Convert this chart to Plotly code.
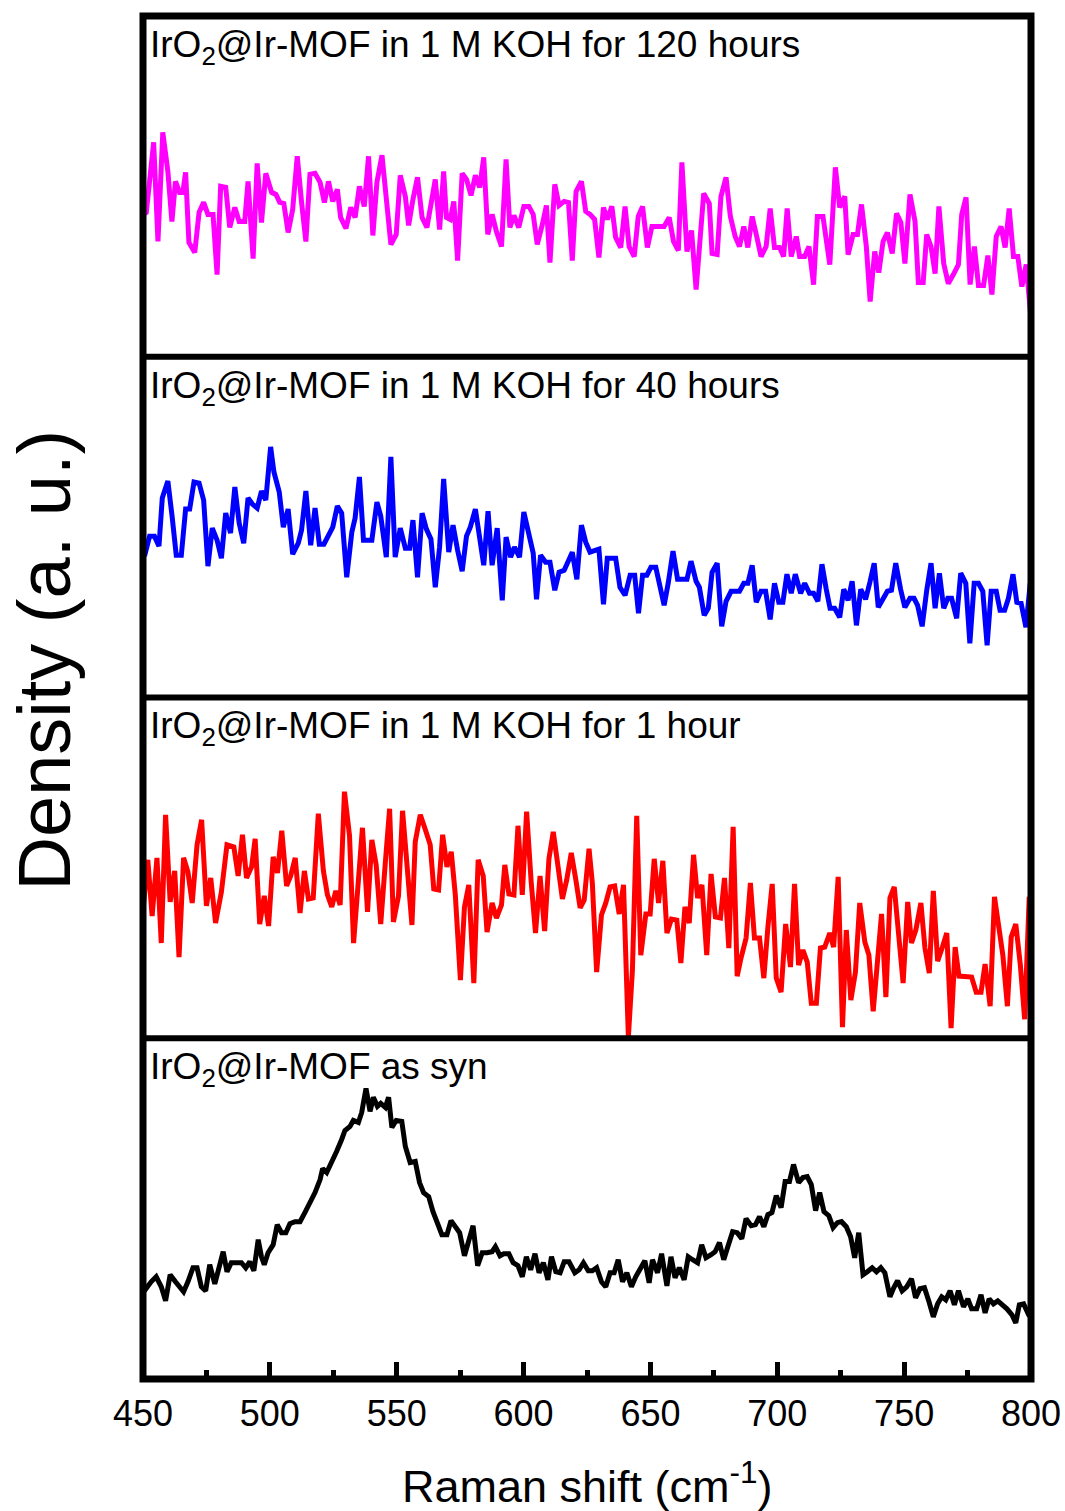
import plotly.graph_objects as go
from plotly.subplots import make_subplots

# ---------------- data (Raman shift in cm^-1, intensity in a.u.) ----------------
labels = [
    "IrO<sub>2</sub>@Ir-MOF in 1 M KOH for 120 hours",
    "IrO<sub>2</sub>@Ir-MOF in 1 M KOH for 40 hours",
    "IrO<sub>2</sub>@Ir-MOF in 1 M KOH for 1 hour",
    "IrO<sub>2</sub>@Ir-MOF as syn",
]
colors = ["#FF00FF", "#0000FF", "#FF0000", "#000000"]
x_ticks = [450, 500, 550, 600, 650, 700, 750, 800]

h120_x = [
    450.0, 451.3, 454.2, 455.9, 457.8, 459.8, 461.4, 462.8, 464.4, 465.7,
    466.8, 468.1, 470.4, 472.1, 473.9, 475.6, 477.6, 479.2, 480.6, 482.6,
    484.2, 486.2, 487.9, 490.1, 491.4, 493.4, 495.0, 496.7, 498.4, 500.7,
    502.4, 503.9, 505.5, 507.2, 509.0, 510.8, 512.5, 514.2, 515.8, 517.8,
    519.8, 521.5, 523.1, 524.8, 526.6, 527.9, 530.0, 531.9, 533.6, 535.3,
    537.2, 538.9, 540.6, 542.2, 544.2, 545.9, 547.7, 549.8, 551.4, 553.4,
    554.7, 556.4, 558.2, 560.0, 561.9, 563.5, 565.2, 566.9, 568.5, 569.6,
    571.1, 572.5, 574.0, 575.8, 577.5, 579.3, 581.0, 582.7, 584.3, 585.9,
    587.6, 589.3, 591.3, 593.1, 594.6, 596.2, 598.1, 600.1, 602.1, 603.8,
    605.4, 607.4, 609.0, 610.4, 612.3, 614.0, 616.0, 617.7, 619.2, 620.7,
    622.8, 624.5, 626.2,
    628.0, 629.7, 631.5, 633.0, 634.8, 636.3, 638.3, 640.0, 641.6, 643.6,
    645.2, 646.9, 648.8, 650.6, 655.4, 657.4, 659.1, 661.0, 662.4, 664.4,
    666.2, 668.0, 671.0, 673.2, 674.3, 676.3, 677.8, 679.8, 681.5, 683.4,
    685.1, 686.8, 688.4, 690.1, 691.9, 693.6, 695.6, 697.2, 698.9, 700.9,
    702.5, 703.9, 705.5, 707.5, 708.8, 710.8, 712.5, 714.3, 715.8, 718.0,
    720.7, 722.9, 724.6, 726.6, 727.9, 729.9, 731.6, 733.2, 735.1, 736.6,
    738.4, 740.0, 741.7, 743.4, 745.3, 747.0, 748.7, 750.3, 752.3, 754.3,
    755.6, 757.5, 758.9, 760.6, 762.2, 763.7, 765.6, 767.4, 769.4, 771.4,
    772.7, 774.4, 776.0, 777.7, 779.3, 781.3, 783.0, 784.6, 786.3, 788.2,
    789.8, 791.4, 793.1, 794.8, 796.4, 798.1, 799.8, 800.6,
]
h120_y = [
    140, 142, 212, 113, 222, 183, 133, 173, 162, 162,
    182, 112, 102, 142, 152, 140, 140, 80, 168, 167,
    127, 147, 133, 133, 173, 96, 191, 132, 181, 162,
    160, 152, 151, 122, 145, 198, 152, 113, 180, 181,
    172, 152, 173, 153, 165, 137, 126, 147, 137, 168,
    148, 198, 119, 172, 199, 155, 110, 120, 179, 158,
    129, 155, 177, 137, 127, 150, 175, 125, 183, 137,
    135, 153, 94, 181, 175, 159, 179, 167, 197, 120,
    140, 123, 108, 195, 127, 139, 127, 148, 148, 140,
    110, 130, 149, 92, 170, 149, 153, 152, 94, 163,
    173, 143, 140,
    135, 97, 147, 135, 148, 117, 107, 148, 108, 98,
    138, 148, 107, 128, 128, 137, 113, 104, 192, 103,
    124, 65, 161, 151, 101, 100, 158, 177, 138, 118,
    108, 128, 107, 138, 118, 98, 108, 146, 107, 107,
    98, 146, 98, 118, 98, 98, 108, 70, 138, 138,
    90, 187, 147, 158, 100, 120, 120, 150, 108, 53,
    103, 82, 113, 122, 101, 141, 132, 91, 160, 133,
    72, 72, 120, 108, 81, 148, 91, 71, 80, 90,
    140, 157, 70, 108, 69, 69, 99, 60, 118, 128,
    107, 146, 98, 98, 68, 90, 42, 100,
]

h40_x = [
    450.6, 452.6, 454.5, 456.3, 457.6, 459.8, 461.5, 463.1, 465.1, 466.8,
    468.4, 470.1, 472.1, 473.9, 475.6, 477.3, 479.2, 480.9, 482.6, 484.5,
    486.2, 487.9, 489.7, 491.4, 493.1, 495.0, 496.7, 498.4, 500.3, 501.6,
    503.7, 505.3, 507.2, 509.0, 511.2, 512.5, 514.2, 516.1, 517.8, 519.5,
    521.3, 523.1, 524.8, 526.6, 528.3, 530.3, 532.3, 533.6, 535.3, 536.9,
    540.2, 542.2, 543.7, 545.9, 547.7, 549.4, 551.4, 553.4, 555.1, 556.4,
    558.2, 560.0, 561.7, 563.5, 565.2, 566.9, 568.5, 570.5, 572.2, 574.0,
    575.8, 577.5, 579.0, 581.0, 582.7, 584.3, 586.0, 587.6, 589.6, 591.6,
    593.1, 594.9, 596.4, 598.4, 600.1, 602.1, 603.8, 605.1, 606.7, 608.7,
    610.4, 612.3, 614.0, 616.0, 617.7, 619.2, 621.0, 622.8, 624.5, 626.2,
    629.7, 631.5, 633.0, 636.3, 638.0, 640.0, 642.0, 643.8, 645.3, 646.9,
    648.6, 650.2, 652.1, 653.9, 655.4, 657.0, 658.9, 660.7, 664.4, 666.0,
    668.0, 669.3, 671.2, 672.8, 674.3, 676.3, 678.1, 679.8, 681.8, 685.1,
    686.8, 688.4, 690.1, 691.7, 693.6, 695.4, 697.2, 698.9, 700.6, 702.2,
    703.8, 705.5, 707.1, 709.2, 710.8, 712.7, 714.3, 716.0, 717.6, 719.3,
    720.8, 722.6, 724.6, 726.2, 727.9, 729.5, 731.2, 732.9, 734.8, 736.5,
    738.2, 739.8, 741.3, 743.4, 745.0, 746.7, 748.6, 750.3, 752.3, 753.9,
    755.3, 757.1, 758.9, 760.6, 762.2, 763.9, 765.6, 767.2, 768.7, 770.7,
    772.3, 774.3, 775.9, 777.6, 779.3, 781.0, 782.7, 784.3, 786.3, 787.8,
    789.6, 791.1, 792.9, 794.4, 796.1, 798.0, 799.7, 801.4,
]
h40_y = [
    141, 161, 161, 151, 199, 216, 180, 142, 142, 188,
    188, 215, 214, 197, 131, 169, 157, 139, 184, 164,
    210, 174, 154, 199, 193, 189, 206, 197, 250, 225,
    205, 170, 188, 143, 154, 167, 206, 152, 189, 153,
    153, 161, 170, 191, 184, 120, 165, 179, 220, 157,
    157, 195, 181, 140, 240, 140, 169, 149, 149, 177,
    120, 184, 168, 158, 110, 150, 218, 145, 172, 147,
    126, 161, 170, 188, 157, 132, 186, 132, 169, 97,
    160, 140, 150, 140, 185, 161, 144, 98, 142, 135,
    135, 107, 125, 127, 137, 145, 118, 172, 155, 145,
    148, 93, 139, 139, 110, 102, 122, 122, 84, 122,
    122, 130, 130, 112, 92, 114, 146, 118, 118, 136,
    116, 110, 82, 89, 125, 134, 71, 96, 106, 106,
    114, 114, 132, 95, 106, 106, 78, 114, 95, 95,
    123, 104, 123, 104, 114, 104, 104, 96, 133, 108,
    89, 89, 80, 108, 97, 116, 72, 108, 98, 115,
    134, 90, 96, 106, 107, 134, 108, 90, 99, 99,
    92, 71, 107, 134, 89, 124, 89, 99, 99, 79,
    124, 114, 54, 114, 114, 106, 52, 106, 106, 87,
    87, 99, 123, 95, 94, 70, 114, 86,
]

h1_x = [
    450.2, 451.9, 453.6, 455.5, 457.2, 458.9, 460.7, 462.5, 464.2, 466.0,
    467.7, 469.4, 471.3, 473.1, 475.0, 476.7, 478.6, 480.9, 483.1, 485.8,
    487.5, 489.2, 490.8, 492.8, 494.2, 496.0, 497.8, 499.5, 501.3, 503.0,
    504.7, 506.6, 508.2, 510.0, 511.9, 513.6, 515.2, 517.1, 519.1, 521.1,
    522.7, 524.4, 526.0, 527.7, 529.4, 531.4, 533.0, 535.0, 536.5, 538.5,
    540.2, 541.9, 543.7, 545.5, 547.2, 548.7, 550.7, 552.3, 554.0, 556.0,
    557.3, 559.3, 561.3, 563.2, 564.6, 566.5, 568.1, 569.8, 571.5, 573.1,
    575.1, 576.7, 578.4, 580.4, 582.1, 584.1, 585.6, 587.6, 589.3, 591.3,
    592.6, 594.2, 596.2, 597.8, 599.5, 601.2, 603.0, 604.7, 606.5, 608.3,
    610.0, 611.7, 613.6, 615.3, 617.0, 618.8, 620.6, 622.3, 623.9, 625.8,
    627.1, 628.8, 630.7, 632.4, 634.1, 635.9, 637.7, 639.4, 641.3, 642.9,
    644.6, 646.2, 648.2, 649.9, 651.5, 653.2, 654.9, 656.5, 658.3, 660.4,
    662.0, 663.6, 665.3, 667.0, 668.6, 670.3, 672.2, 673.9, 675.6, 677.6,
    679.2, 680.9, 682.6, 684.2, 685.7, 687.7, 689.4, 691.0, 693.0, 694.7,
    696.3, 698.0, 699.6, 701.5, 703.3, 705.2, 706.8, 708.4, 710.1, 711.8,
    713.4, 715.4, 717.0, 718.7, 720.7, 722.2, 724.0, 725.7, 727.2, 729.0,
    730.8, 732.5, 734.5, 736.1, 737.8, 739.5, 741.1, 742.8, 744.4, 746.1,
    747.9, 749.6, 751.4, 752.9, 754.6, 756.6, 758.2, 759.9, 761.5, 763.2,
    765.1, 766.8, 768.5, 770.1, 771.6, 776.6, 778.4, 780.3, 781.9, 783.9,
    785.6, 787.2, 788.9, 790.7, 792.2, 794.0, 795.8, 797.5, 799.3, 800.6,
]
h1_y = [
    133, 178, 122, 180, 95, 223, 136, 167, 81, 180,
    166, 135, 193, 218, 132, 160, 115, 146, 193, 191,
    162, 203, 160, 171, 199, 114, 142, 112, 181, 165,
    207, 152, 162, 180, 125, 167, 139, 140, 224, 167,
    143, 131, 147, 133, 246, 202, 95, 156, 210, 126,
    198, 173, 114, 175, 229, 116, 142, 227, 170, 113,
    196, 223, 208, 193, 149, 148, 203, 171, 186, 143,
    58, 131, 153, 55, 178, 162, 106, 135, 120, 133,
    173, 144, 143, 212, 143, 226, 156, 105, 162, 107,
    179, 206, 171, 139, 158, 185, 158, 130, 138, 189,
    155, 66, 123, 135, 151, 152, 124, 153, 1, 68,
    222, 83, 124, 124, 179, 135, 177, 105, 119, 118,
    75, 131, 115, 183, 140, 153, 83, 164, 121, 120,
    160, 90, 211, 62, 80, 100, 155, 100, 100, 60,
    111, 154, 60, 46, 114, 71, 154, 73, 88, 76,
    35, 35, 90, 91, 105, 91, 161, 11, 108, 38,
    66, 135, 96, 83, 27, 75, 124, 41, 140, 151,
    95, 55, 136, 95, 108, 135, 90, 65, 147, 77,
    91, 105, 10, 91, 62, 61, 46, 46, 74, 32,
    141, 116, 83, 32, 101, 114, 73, 19, 141, 31,
]

syn_x = [
    450.0,
    451.3, 453.2, 455.2, 457.2, 458.9, 460.7, 462.8, 464.4, 466.0, 467.7,
    469.7, 471.3, 473.0, 474.7, 476.3, 478.3, 480.2, 481.6, 483.1, 484.8,
    486.8, 488.8, 490.5, 492.1, 493.7, 495.4, 496.7, 497.8, 499.3, 501.3,
    502.9, 504.6, 506.3, 507.9, 509.9, 511.9, 513.8, 515.8, 517.8, 519.8,
    520.8, 522.4, 524.4, 526.3, 528.3, 529.6, 531.6, 532.9, 534.9, 536.2,
    537.9, 539.5, 540.8, 542.4, 543.7, 545.5, 546.8, 548.1, 549.8, 552.0,
    553.4, 555.3, 557.3, 559.0, 560.6, 562.6, 564.3, 566.1, 567.8, 569.8,
    571.4, 573.1, 574.8, 576.7, 578.4, 580.1, 581.9, 583.7, 585.6, 587.6,
    588.9, 590.7, 592.2, 594.2, 595.9, 597.8, 599.5, 601.1, 602.8, 604.5,
    606.1, 607.8, 609.6, 611.0, 612.7, 614.4, 616.0, 617.9, 620.2, 621.9,
    623.6, 625.5,
    627.1, 628.8, 630.7, 632.4, 634.1, 635.7, 637.3, 639.0, 640.7, 642.5,
    644.2, 646.2, 647.8, 649.5, 650.8, 652.8, 654.4, 656.5, 658.1, 659.7,
    661.4, 663.3, 664.9, 666.6, 668.6, 670.2, 671.9, 673.9, 675.5, 677.2,
    678.9, 680.5, 682.4, 684.2, 686.0, 687.7, 689.7, 691.4, 693.0, 694.7,
    696.3, 697.9, 699.6, 701.5, 703.1, 704.8, 706.4, 708.4, 710.1, 711.8,
    713.4, 715.1, 716.7, 718.4, 720.3, 722.0, 723.7, 725.3, 727.2, 728.9,
    730.5, 732.1, 733.8, 735.5, 737.4, 739.1, 740.8, 742.4, 744.4, 745.9,
    747.4, 749.2, 751.0, 752.9, 754.5, 756.2, 758.0, 759.8, 761.5, 763.2,
    764.8, 766.4, 768.1, 769.8, 771.4, 773.4, 775.1, 776.6, 778.6, 780.3,
    781.9, 783.5, 785.2, 786.9, 788.8, 790.5, 792.5, 794.0, 795.4, 797.1,
    799.1, 800.5,
]
syn_y = [
    82,
    87, 93, 98, 88, 74, 100, 93, 87, 83, 93,
    107, 107, 88, 84, 110, 91, 111, 123, 103, 112,
    112, 112, 107, 113, 104, 135, 118, 110, 122, 130,
    150, 142, 142, 151, 153, 153, 162, 171, 182, 195,
    206, 202, 212, 223, 235, 244, 248, 254, 252, 262,
    286, 263, 277, 268, 271, 267, 277, 247, 254, 253,
    228, 212, 213, 192, 182, 178, 163, 150, 140, 140,
    154, 148, 142, 119, 135, 149, 109, 122, 122, 123,
    128, 119, 121, 121, 112, 109, 98, 118, 105, 121,
    102, 112, 95, 118, 103, 102, 113, 113, 102, 105,
    112, 104,
    104, 107, 93, 88, 102, 102, 115, 93, 102, 88,
    98, 108, 114, 92, 115, 102, 121, 89, 118, 97,
    107, 95, 118, 115, 112, 130, 117, 120, 123, 132,
    115, 128, 143, 142, 136, 156, 149, 150, 158, 148,
    160, 162, 179, 167, 193, 193, 210, 192, 197, 198,
    190, 164, 182, 163, 159, 147, 152, 153, 148, 138,
    117, 142, 100, 103, 107, 103, 107, 102, 78, 87,
    94, 84, 88, 96, 77, 86, 87, 73, 58, 71,
    78, 75, 84, 70, 84, 68, 76, 66, 66, 80,
    62, 76, 71, 74, 70, 66, 60, 52, 70, 71,
    60, 57,
]

series_x = [h120_x, h40_x, h1_x, syn_x]
series_y = [h120_y, h40_y, h1_y, syn_y]
y_ranges = [[-2, 338], [0, 340], [0, 340], [-4, 336]]

# ---------------- figure ----------------
FONT = "Liberation Sans, Arial, sans-serif"
fig = make_subplots(rows=4, cols=1, shared_xaxes=True, vertical_spacing=0)

for i in range(4):
    fig.add_trace(
        go.Scatter(x=series_x[i], y=series_y[i], mode="lines",
                   line=dict(color=colors[i], width=5),
                   showlegend=False, hoverinfo="skip"),
        row=i + 1, col=1)
    fig.update_yaxes(range=y_ranges[i], showticklabels=False, ticks="",
                     showgrid=False, zeroline=False, showline=False,
                     automargin=False, row=i + 1, col=1)
    fig.update_xaxes(range=[450, 800], showgrid=False, zeroline=False,
                     showline=False, ticks="", showticklabels=False,
                     automargin=False, row=i + 1, col=1)

fig.update_xaxes(
    row=4, col=1, ticks="inside", ticklen=17, tickwidth=5, tickcolor="black",
    tickvals=x_ticks, ticktext=[str(v) for v in x_ticks], showticklabels=True,
    ticklabelstandoff=10, ticklabeloverflow="allow", automargin=False,
    tickfont=dict(family=FONT, size=36, color="black"),
    minor=dict(ticks="inside", ticklen=9, tickwidth=5, tickcolor="black",
               dtick=25, tick0=450, showgrid=False),
)

# frame: outer box and panel dividers
shapes = [dict(type="rect", xref="paper", yref="paper", x0=0, x1=1, y0=0, y1=1,
               line=dict(color="black", width=7), layer="above")]
for yv in [0.25, 0.5, 0.75]:
    shapes.append(dict(type="line", xref="paper", yref="paper", x0=0, x1=1,
                       y0=yv, y1=yv, line=dict(color="black", width=6),
                       layer="above"))

annotations = []
for i, lab in enumerate(labels):
    annotations.append(dict(
        text=lab, xref="paper", yref="paper", x=0.006,
        y=1 - i * 0.25 - 0.0227, xanchor="left", yanchor="middle",
        showarrow=False, font=dict(family=FONT, size=37, color="black")))
annotations.append(dict(
    text="Density (a. u.)", xref="paper", yref="paper", x=-0.111, y=0.5275,
    xanchor="center", yanchor="middle", textangle=-90, showarrow=False,
    font=dict(family=FONT, size=74, color="black")))
annotations.append(dict(
    text="Raman shift (cm<sup>-1</sup>)", xref="paper", yref="paper",
    x=0.5, y=-0.0765, xanchor="center", yanchor="middle", showarrow=False,
    font=dict(family=FONT, size=45, color="black")))

fig.update_layout(
    width=1065, height=1511,
    margin=dict(l=143, r=34, t=16, b=132, autoexpand=False),
    paper_bgcolor="white", plot_bgcolor="white",
    shapes=shapes, annotations=annotations,
)

fig.write_html("out.html")
